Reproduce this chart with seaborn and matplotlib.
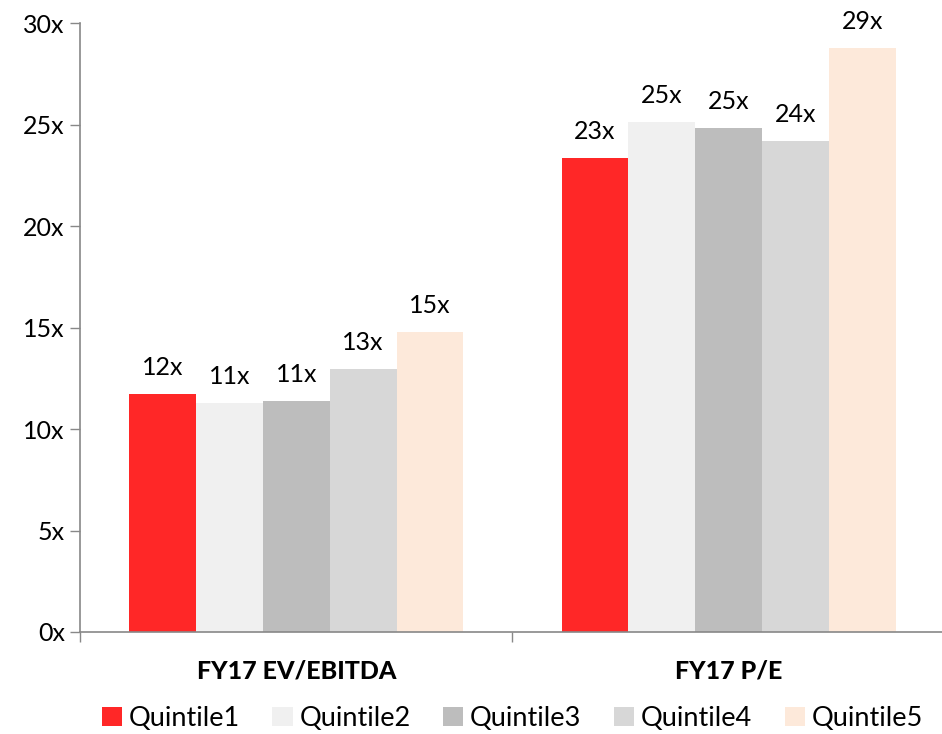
import numpy as np
import pandas as pd
import seaborn as sns
import matplotlib.pyplot as plt
from matplotlib.ticker import FuncFormatter

# data
metrics = ['FY17 EV/EBITDA', 'FY17 P/E']
quintiles = ['Quintile1', 'Quintile2', 'Quintile3', 'Quintile4', 'Quintile5']
ev_ebitda = [11.72, 11.28, 11.38, 12.96, 14.78]
pe = [23.35, 25.12, 24.83, 24.19, 28.77]
colors = ['#ff2727', '#f0f0f0', '#bdbdbd', '#d7d7d7', '#fde9da']

df = pd.DataFrame({
    'metric': [metrics[0]] * 5 + [metrics[1]] * 5,
    'quintile': quintiles * 2,
    'value': ev_ebitda + pe,
})

sns.set_style('white')
plt.rcParams['font.family'] = ['Lato', 'DejaVu Sans']
plt.rcParams['text.color'] = 'black'

fig, ax = plt.subplots(figsize=(9.42, 7.34), dpi=100)
fig.subplots_adjust(left=0.085, right=1.003, top=0.968, bottom=0.139)

sns.barplot(data=df, x='metric', y='value', hue='quintile', order=metrics,
            hue_order=quintiles, palette=colors, width=0.773, gap=0,
            saturation=1, errorbar=None, linewidth=0, ax=ax, legend=True)

for cont in ax.containers:
    ax.bar_label(cont, labels=[f'{round(v):.0f}x' for v in cont.datavalues],
                 padding=11, fontsize=18, color='black')

ax.set_ylim(0, 30)
ax.set_xlim(-0.5, 1.5)
ax.set_yticks(np.arange(0, 31, 5))
ax.yaxis.set_major_formatter(FuncFormatter(lambda v, p: f'{v:.0f}x'))
ax.tick_params(axis='y', labelsize=18, labelcolor='black', left=True, length=7,
               color='#888888', width=1, pad=4)
ax.set_xticks([-0.5, 0.5, 1.5], minor=False)
ax.set_xticklabels(['', '', ''])
ax.tick_params(axis='x', bottom=True, length=7, color='#888888', width=1)
ax.set_xticks([0, 1], minor=True)
ax.set_xticklabels(metrics, minor=True, fontsize=18, fontweight='black', color='black')
ax.tick_params(axis='x', which='minor', bottom=False, pad=18)
ax.set_xlabel('')
ax.set_ylabel('')

sns.despine(ax=ax, top=True, right=True)
for s in ['left', 'bottom']:
    ax.spines[s].set_color('#888888')
    ax.spines[s].set_linewidth(1.2)

ax.legend(loc='center', bbox_to_anchor=(0.5, -0.142), ncol=5, frameon=False,
          fontsize=19.5, handlelength=0.75, handleheight=0.75, handletextpad=0.25,
          columnspacing=1.2, labelcolor='black', borderaxespad=0, borderpad=0.1)

fig.savefig('out.png', dpi=100)
